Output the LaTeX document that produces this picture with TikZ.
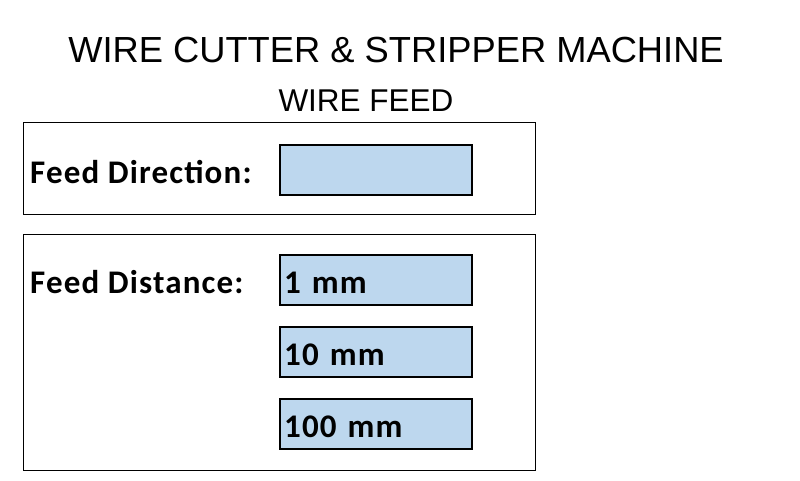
\documentclass[tikz,border=0pt]{standalone}
\usepackage{fontspec}
\setmainfont{Liberation Sans}
\newfontfamily\labelfont[LetterSpace=3.5]{Carlito}
\definecolor{btnblue}{RGB}{189,215,238}
\tikzset{
  panel/.style={draw=black, line width=0.9pt, anchor=north west, inner sep=0pt},
  btnbox/.style={draw=black, line width=2.4pt, fill=btnblue, anchor=north west,
    minimum width=192pt, minimum height=50pt, inner sep=4pt, text width=184pt, align=left,
    text height=29pt, text depth=2pt,
    font=\labelfont\bfseries\fontsize{33}{36}\selectfont},
  fieldlabel/.style={anchor=base west, inner sep=0pt, font=\labelfont\bfseries\fontsize{33}{36}\selectfont}
}

\begin{document}
\begin{tikzpicture}[x=1pt,y=-1pt]
    \useasboundingbox (0,0) rectangle (800,480);
    % headings
    \node[anchor=base, inner sep=0pt, font=\fontsize{36.3}{40}\selectfont](title)at(396,62){WIRE CUTTER \& STRIPPER MACHINE};
    \node[anchor=base, inner sep=0pt, font=\fontsize{31.5}{36}\selectfont](subtitle)at(366,111){WIRE FEED};
    % direction panel
    \node[panel, minimum width=512pt, minimum height=92pt](dirpanel)at(23,122){};
    \node[fieldlabel](dirlabel)at(30,183){Feed Direction:};
    \node[btnbox](dirbtn)at(279,144){};
    % distance panel
    \node[panel, minimum width=512pt, minimum height=236pt](distpanel)at(23,234){};
    \node[fieldlabel](distlabel)at(30,293){Feed Distance:};
    \node[btnbox](dist1)at(279,254){1 mm};
    \node[btnbox](dist10)at(279,326){10 mm};
    \node[btnbox](dist100)at(279,398){100 mm};
\end{tikzpicture}
\end{document}
